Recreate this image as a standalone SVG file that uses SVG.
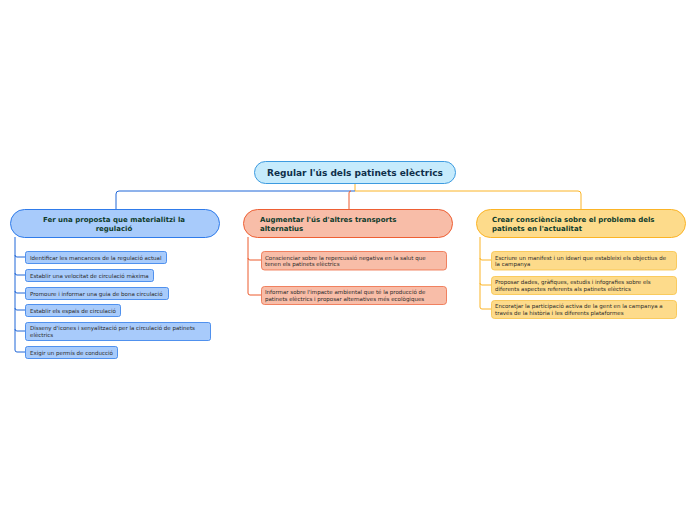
<svg xmlns="http://www.w3.org/2000/svg" width="696" height="520" viewBox="0 0 696 520">
<style>
text{font-family:"DejaVu Sans",Verdana,sans-serif}
.h{font-weight:bold;font-size:7px;fill:#0f3b2c}
.r{font-weight:bold;font-size:9px;fill:#0f2f4a}
.c{font-size:5.5px;fill:#2a2a2a}
.cb{fill:#a8cbfb;stroke:#2f7bea;stroke-width:0.8}
.co{fill:#f8bda8;stroke:#ee6a43;stroke-width:0.8}
.cy{fill:#fddb8b;stroke:#f8c145;stroke-width:0.8}
.lb{fill:none;stroke:#1f66d8;stroke-width:1}
.lo{fill:none;stroke:#ec5a2c;stroke-width:1}
.ly{fill:none;stroke:#fbb426;stroke-width:1}
</style>
<g id="connectors">
<path class="ly" d="M355,183 V191"/>
<path class="lb" d="M355,191 H119 Q116,191 116,194 V209"/>
<path class="ly" d="M355,191 H578 Q581,191 581,194 V209"/>
<path class="lo" d="M351,191 Q349,191 349,193 V209"/>
<path class="lb" d="M15,237 V255 Q15,257 17,257 H25"/>
<path class="lb" d="M15,255 V273 Q15,275 17,275 H25"/>
<path class="lb" d="M15,273 V291 Q15,293 17,293 H25"/>
<path class="lb" d="M15,291 V308 Q15,310 17,310 H25"/>
<path class="lb" d="M15,308 V329 Q15,331 17,331 H25"/>
<path class="lb" d="M15,329 V350 Q15,352 17,352 H25"/>
<path class="lo" d="M248,237 V258 Q248,260 250,260 H261"/>
<path class="lo" d="M248,258 V293 Q248,295 250,295 H261"/>
<path class="ly" d="M480,237 V258 Q480,260 482,260 H491"/>
<path class="ly" d="M480,258 V283 Q480,285 482,285 H491"/>
<path class="ly" d="M480,283 V307 Q480,309 482,309 H491"/>
</g>
<g id="root">
<rect x="254.5" y="161.5" width="201" height="22" rx="11" fill="#c6ebfc" stroke="#3d9be0" stroke-width="1"/>
<text class="r" x="355" y="175.8" text-anchor="middle">Regular l'ús dels patinets elèctrics</text>
</g>
<g id="n1">
<rect x="10.5" y="209.5" width="209" height="28" rx="14" fill="#a8cbfb" stroke="#2f7bea" stroke-width="1"/>
<text class="h" x="114" y="221.5" text-anchor="middle">Fer una proposta que materialitzi la</text>
<text class="h" x="114" y="231" text-anchor="middle">regulació</text>
</g>
<g id="n2">
<rect x="243.5" y="209.5" width="209" height="28" rx="14" fill="#f8bda8" stroke="#ee5f34" stroke-width="1"/>
<text class="h" x="260" y="221.5">Augmentar l'ús d'altres transports</text>
<text class="h" x="260" y="231">alternatius</text>
</g>
<g id="n3">
<rect x="476.5" y="209.5" width="209" height="28" rx="14" fill="#fddb8b" stroke="#fbb426" stroke-width="1"/>
<text class="h" x="492" y="221.5">Crear consciència sobre el problema dels</text>
<text class="h" x="492" y="231">patinets en l'actualitat</text>
</g>
<g id="n1c1"><rect class="cb" x="25.5" y="251.5" width="141" height="12" rx="2"/><text class="c" x="30" y="259.6">Identificar les mancances de la regulació actual</text></g>
<g id="n1c2"><rect class="cb" x="25.5" y="269.5" width="128" height="12" rx="2"/><text class="c" x="30" y="277.6">Establir una velocitat de circulació màxima</text></g>
<g id="n1c3"><rect class="cb" x="25.5" y="287.5" width="143" height="12" rx="2"/><text class="c" x="30" y="295.6">Promoure i informar una guia de bona circulació</text></g>
<g id="n1c4"><rect class="cb" x="25.5" y="304.5" width="95" height="12" rx="2"/><text class="c" x="30" y="312.6">Establir els espais de circulació</text></g>
<g id="n1c5"><rect class="cb" x="25.5" y="322.5" width="185" height="18" rx="2"/><text class="c" x="30" y="330.2">Disseny d'icones i senyalització per la circulació de patinets</text><text class="c" x="30" y="336.7">elèctrics</text></g>
<g id="n1c6"><rect class="cb" x="25.5" y="346.5" width="92" height="12" rx="2"/><text class="c" x="30" y="354.6">Exigir un permís de conducció</text></g>
<g id="n2c1"><rect class="co" x="261.5" y="251.5" width="185" height="18.5" rx="3"/><text class="c" x="265" y="259.6">Conscienciar sobre la repercussió negativa en la salut que</text><text class="c" x="265" y="266.1">tenen els patinets elèctrics</text></g>
<g id="n2c2"><rect class="co" x="261.5" y="286.5" width="185" height="18" rx="3"/><text class="c" x="265" y="294.4">Informar sobre l'impacte ambiental que té la producció de</text><text class="c" x="265" y="300.9">patinets elèctrics i proposar alternatives més ecològiques</text></g>
<g id="n3c1"><rect class="cy" x="491.5" y="251.5" width="185" height="18.5" rx="3"/><text class="c" x="495" y="259.6">Escriure un manifest i un ideari que estableixi els objectius de</text><text class="c" x="495" y="266.1">la campanya</text></g>
<g id="n3c2"><rect class="cy" x="491.5" y="276.5" width="185" height="18" rx="3"/><text class="c" x="495" y="284.4">Proposar dades, gràfiques, estudis i infografies sobre els</text><text class="c" x="495" y="290.9">diferents aspectes referents als patinets elèctrics</text></g>
<g id="n3c3"><rect class="cy" x="491.5" y="300.5" width="185" height="18" rx="3"/><text class="c" x="495" y="308.4">Encoratjar la participació activa de la gent en la campanya a</text><text class="c" x="495" y="314.9">través de la història i les diferents plataformes</text></g>
</svg>
